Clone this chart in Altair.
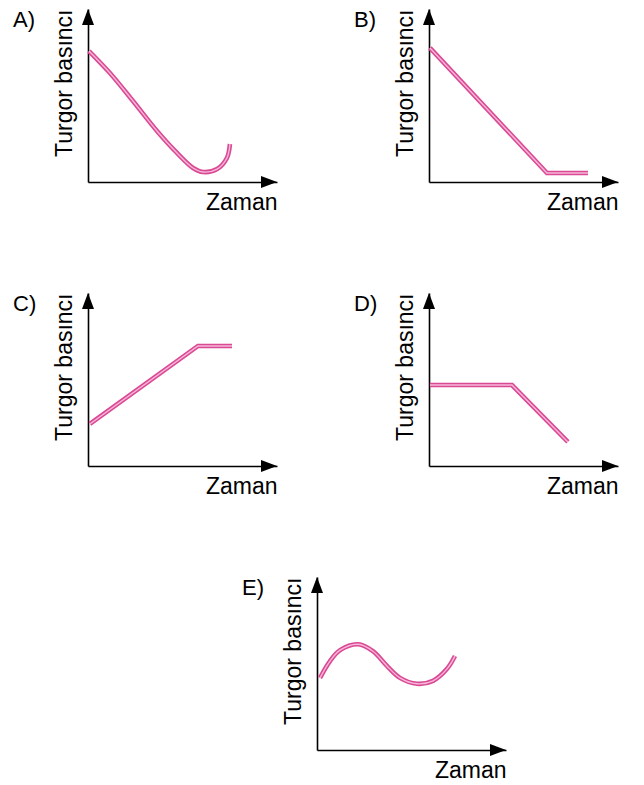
import altair as alt
import pandas as pd

# ---- data (time units 0-10, pressure units 0-10) ----
A_x = [0.05, 1.16, 2.38, 3.65, 4.71, 5.56, 6.08, 6.83, 7.35, 7.51]
A_y = [7.57, 6.30, 4.68, 2.95, 1.68, 0.81, 0.58, 0.75, 1.39, 2.20]

B_x = [0.05, 6.24, 8.41]
B_y = [7.75, 0.52, 0.52]

C_x = [0.10, 5.82, 7.62]
C_y = [2.43, 6.94, 6.94]

D_x = [0.05, 4.39, 7.35]
D_y = [4.68, 4.68, 1.39]

E_x = [0.16, 0.69, 1.22, 2.17, 2.96, 3.70, 4.39, 5.29, 6.14, 6.88, 7.30]
E_y = [4.17, 5.14, 5.77, 6.11, 5.71, 4.86, 4.17, 3.83, 4.00, 4.69, 5.43]

LABELS = ["A)", "B)", "C)", "D)", "E)"]
X_TITLE = "Zaman"
Y_TITLE = "Turgor basıncı"

FONT = "Liberation Sans"
OUTER = "#da4a94"
INNER = "#f7b8da"

W, H = 189, 173


def panel(xs, ys, label, interp):
    df = pd.DataFrame({"x": xs, "y": ys})
    xs_ = alt.Scale(domain=[0, 10], nice=False, zero=False)
    ys_ = alt.Scale(domain=[0, 10], nice=False, zero=False)
    xax = alt.Axis(title=X_TITLE, titleAnchor="end", ticks=False, labels=False,
                   grid=False, domainColor="black", domainWidth=1.6,
                   titleFontSize=23, titleFontWeight="normal", titleFont=FONT,
                   titleColor="black", titlePadding=9)
    yax = alt.Axis(title=Y_TITLE, titleAnchor="end", ticks=False, labels=False,
                   grid=False, domainColor="black", domainWidth=1.6,
                   titleFontSize=23, titleFontWeight="normal", titleFont=FONT,
                   titleColor="black", titlePadding=12)
    base = alt.Chart(df).encode(
        x=alt.X("x:Q", scale=xs_, axis=xax),
        y=alt.Y("y:Q", scale=ys_, axis=yax),
    )
    outer = base.mark_line(color=OUTER, strokeWidth=4.6, interpolate=interp)
    inner = base.mark_line(color=INNER, strokeWidth=1.4, interpolate=interp)

    arrows = pd.DataFrame({"x": [10, 0], "y": [0, 10],
                           "s": ["M0,0L-2,-0.75L-2,0.75Z", "M0,0L-0.75,2L0.75,2Z"]})
    arr = alt.Chart(arrows).mark_point(filled=True, color="black", opacity=1,
                                       size=256, strokeWidth=0).encode(
        x=alt.X("x:Q", scale=xs_),
        y=alt.Y("y:Q", scale=ys_),
        shape=alt.Shape("s:N", scale=None, legend=None),
    )
    lab = alt.Chart(pd.DataFrame({"t": [label]})).mark_text(
        font=FONT, fontSize=22, align="left", baseline="alphabetic", color="black"
    ).encode(x=alt.value(-75), y=alt.value(18), text="t:N")
    return alt.layer(outer, inner, arr, lab).properties(width=W, height=H)


def spacer(w):
    return alt.Chart(pd.DataFrame({"a": [0]})).mark_rule(opacity=0, strokeWidth=0.1).encode(
        x=alt.value(0), x2=alt.value(w), y=alt.value(20)).properties(width=w, height=H)


A = panel(A_x, A_y, LABELS[0], "catmull-rom")
B = panel(B_x, B_y, LABELS[1], "linear")
C = panel(C_x, C_y, LABELS[2], "linear")
D = panel(D_x, D_y, LABELS[3], "linear")
E = panel(E_x, E_y, LABELS[4], "catmull-rom")

row1 = alt.hconcat(A, B, spacing=152, bounds="flush")
row2 = alt.hconcat(C, D, spacing=152, bounds="flush")
row3 = alt.hconcat(spacer(229), E, spacing=0, bounds="flush")

chart = alt.vconcat(row1, row2, row3, spacing=78).properties(
    padding={"left": 5, "top": 0, "right": 5, "bottom": 0}
).configure_view(stroke=None)

chart.save("out.html", embed_options={"renderer": "svg", "actions": False})
